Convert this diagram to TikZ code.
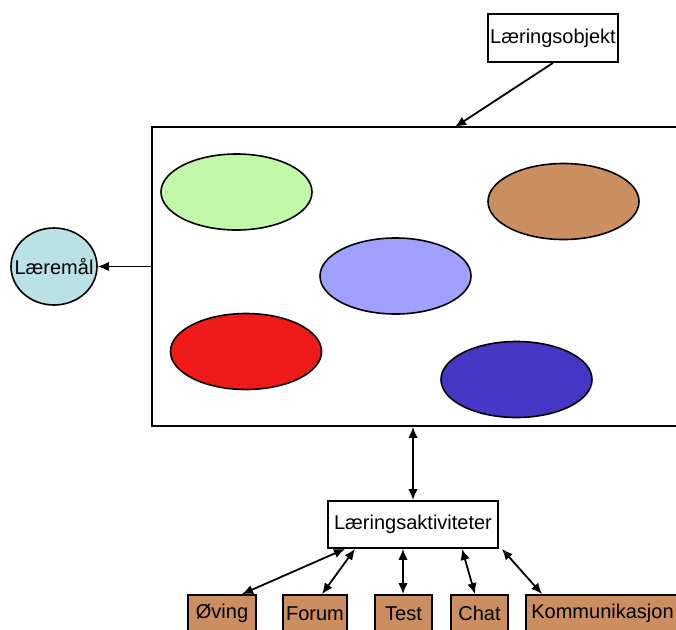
\documentclass[tikz,border=0pt]{standalone}
\usepackage{fontspec}
\setmainfont{Liberation Sans}
\usetikzlibrary{arrows.meta,shapes.geometric}

\definecolor{grnfill}{RGB}{194,246,168}
\definecolor{brnfill}{RGB}{202,142,96}
\definecolor{lavfill}{RGB}{160,160,255}
\definecolor{redfill}{RGB}{240,26,26}
\definecolor{navfill}{RGB}{70,54,198}
\definecolor{aquafill}{RGB}{186,225,229}

\tikzset{
  every node/.style={font=\fontsize{20}{23}\selectfont, inner sep=0pt},
  plainbox/.style={draw, line width=1.8pt, fill=white},
  actbox/.style={draw, line width=1.8pt, fill=brnfill},
  blob/.style={ellipse, draw, line width=1.6pt, minimum width=151pt, minimum height=76pt},
  tip/.tip={Latex[length=11pt,width=9.5pt]},
  arr/.style={line width=1.8pt, -tip},
  dbl/.style={line width=1.8pt, tip-tip}
}

\begin{document}
\begin{tikzpicture}[x=1pt,y=-1pt]
\useasboundingbox (0,0) rectangle (676,629);
\clip (0,0) rectangle (676,629);
\fill[white] (0,0) rectangle (676,629);

% container and its contents
\node[plainbox, minimum width=538pt, minimum height=299pt] (ramme) at (421,276.5) {};
\node[blob, fill=grnfill] (e1) at (236.5,192) {};
\node[blob, fill=brnfill] (e2) at (563.5,201.5) {};
\node[blob, fill=lavfill] (e3) at (395.5,276) {};
\node[blob, fill=redfill] (e4) at (246,351.5) {};
\node[blob, fill=navfill] (e5) at (516.5,379.5) {};

% learning object on top
\node[plainbox, minimum width=130pt, minimum height=48pt] (obj) at (553,38) {Læringsobjekt};
\coordinate (objtip) at (455,127);
\draw[arr] (obj.south) -- (objtip);

% learning goal on the left
\node[ellipse, draw, line width=1.6pt, fill=aquafill, minimum width=86pt, minimum height=77pt] (maal) at (54,266.5) {\makebox[0pt]{Læremål}};
\draw[arr] (ramme.west |- maal.east) -- (maal.east);

% activities
\node[plainbox, minimum width=170pt, minimum height=47pt] (aktiv) at (413,524.5) {Læringsaktiviteter};
\draw[dbl] (ramme.south -| aktiv.north) -- (aktiv.north);

\node[actbox, minimum width=68pt, minimum height=37pt] (oving) at (222,613.5) {Øving};
\node[actbox, minimum width=64pt, minimum height=37pt] (forum) at (315,613.5) {Forum};
\node[actbox, minimum width=57pt, minimum height=37pt] (test) at (403.5,613.5) {Test};
\node[actbox, minimum width=57pt, minimum height=37pt] (chat) at (479.5,613.5) {Chat};
\node[actbox, minimum width=153pt, minimum height=37pt] (komm) at (602.5,613.5) {Kommunikasjon};

\draw[dbl] ([xshift=20pt]oving.north) -- ([xshift=-68pt]aktiv.south);
\draw[dbl] ([xshift=7pt]forum.north) -- ([xshift=-58pt]aktiv.south);
\draw[dbl] ([xshift=-0.5pt]test.north) -- ([xshift=-10pt]aktiv.south);
\draw[dbl] ([xshift=-4.5pt]chat.north) -- ([xshift=49pt]aktiv.south);
\draw[dbl] ([xshift=-60.5pt]komm.north) -- ([xshift=3pt]aktiv.south east);
\end{tikzpicture}
\end{document}
